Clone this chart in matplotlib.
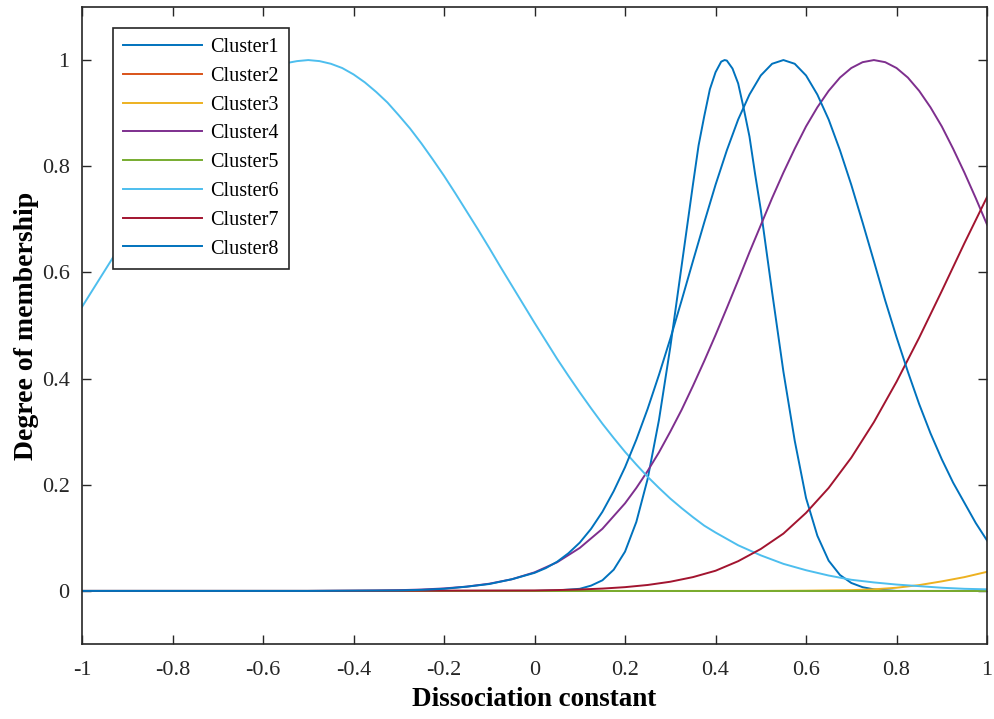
import matplotlib.pyplot as plt

x1 = [-1.0, 0.0, 0.05, 0.1, 0.125, 0.15, 0.175, 0.2, 0.225, 0.25, 0.275, 0.3, 0.325,
      0.35, 0.3625, 0.375, 0.3875, 0.4, 0.4125, 0.42, 0.425, 0.4375, 0.45, 0.4625,
      0.475, 0.4875, 0.5, 0.525, 0.55, 0.575, 0.6, 0.625, 0.65, 0.675, 0.7, 0.725,
      0.75, 0.8, 1.0]
y1 = [0.0, 0.0, 0.001, 0.004, 0.01, 0.02, 0.04, 0.074, 0.13, 0.211, 0.322, 0.459, 0.612,
      0.765, 0.839, 0.894, 0.945, 0.977, 0.997, 1.0, 0.999, 0.984, 0.956, 0.908,
      0.856, 0.785, 0.718, 0.563, 0.413, 0.283, 0.175, 0.104, 0.057, 0.03, 0.015,
      0.007, 0.003, 0.0, 0.0]

x2 = [-1.0, 1.0]
y2 = [0.0, 0.0]

x3 = [-1.0, 0.5, 0.6, 0.65, 0.7, 0.75, 0.8, 0.85, 0.9, 0.95, 1.0]
y3 = [0.0, 0.0, 0.0005, 0.001, 0.0015, 0.003, 0.006, 0.011, 0.018, 0.026, 0.036]

x4 = [-1.0, -0.5, -0.4, -0.35, -0.3, -0.25, -0.2, -0.15, -0.1, -0.05, 0.0, 0.05, 0.1,
      0.15, 0.2, 0.225, 0.25, 0.275, 0.3, 0.325, 0.35, 0.375, 0.4, 0.425, 0.45, 0.475,
      0.5, 0.525, 0.55, 0.575, 0.6, 0.625, 0.65, 0.675, 0.7, 0.725, 0.75, 0.775, 0.8,
      0.825, 0.85, 0.875, 0.9, 0.925, 0.95, 0.975, 1.0]
y4 = [0.0, 0.0, 0.0004, 0.0007, 0.0014, 0.0026, 0.0047, 0.0081, 0.0136, 0.022, 0.035,
      0.054, 0.081, 0.117, 0.165, 0.194, 0.226, 0.261, 0.3, 0.341, 0.386, 0.433, 0.482,
      0.533, 0.585, 0.638, 0.689, 0.74, 0.788, 0.833, 0.875, 0.911, 0.942, 0.967, 0.985,
      0.996, 1.0, 0.996, 0.985, 0.967, 0.942, 0.911, 0.875, 0.833, 0.788, 0.74, 0.69]

x5 = [-1.0, 1.0]
y5 = [0.0, 0.0]

x6 = [-1.0, -0.975, -0.95, -0.925, -0.9, -0.875, -0.85, -0.825, -0.8, -0.775, -0.75,
      -0.725, -0.7, -0.675, -0.65, -0.625, -0.6, -0.575, -0.55, -0.525, -0.5, -0.475,
      -0.45, -0.425, -0.4, -0.375, -0.35, -0.325, -0.3, -0.275, -0.25, -0.225, -0.2,
      -0.175, -0.15, -0.125, -0.1, -0.075, -0.05, -0.025, 0.0, 0.025, 0.05, 0.075, 0.1,
      0.125, 0.15, 0.175, 0.2, 0.225, 0.25, 0.275, 0.3, 0.325, 0.35, 0.375, 0.4, 0.45,
      0.5, 0.55, 0.6, 0.65, 0.7, 0.75, 0.8, 0.85, 0.9, 0.95, 1.0]
y6 = [0.535, 0.569, 0.603, 0.637, 0.67, 0.704, 0.736, 0.768, 0.799, 0.828, 0.855,
      0.881, 0.905, 0.926, 0.945, 0.962, 0.975, 0.986, 0.994, 0.998, 1.0, 0.998,
      0.993, 0.985, 0.973, 0.958, 0.94, 0.92, 0.896, 0.871, 0.843, 0.813, 0.782,
      0.749, 0.715, 0.681, 0.646, 0.61, 0.575, 0.54, 0.505, 0.471, 0.437, 0.405, 0.374,
      0.344, 0.315, 0.288, 0.262, 0.238, 0.215, 0.194, 0.174, 0.156, 0.139, 0.123, 0.11,
      0.086, 0.067, 0.051, 0.039, 0.029, 0.021, 0.016, 0.012, 0.009, 0.006, 0.004, 0.003]

x7 = [-1.0, -0.5, 0.0, 0.05, 0.1, 0.15, 0.2, 0.25, 0.3, 0.35, 0.4, 0.45, 0.5, 0.55,
      0.6, 0.65, 0.7, 0.75, 0.8, 0.85, 0.9, 0.95, 1.0]
y7 = [0.0, 0.0, 0.0009, 0.0016, 0.0027, 0.0044, 0.0071, 0.0112, 0.0173, 0.026, 0.038,
      0.056, 0.079, 0.108, 0.147, 0.194, 0.251, 0.318, 0.394, 0.477, 0.565, 0.655, 0.742]

x8 = [-1.0, -0.5, -0.3, -0.25, -0.2, -0.15, -0.1, -0.05, 0.0, 0.025, 0.05, 0.075, 0.1,
      0.125, 0.15, 0.175, 0.2, 0.225, 0.25, 0.275, 0.3, 0.325, 0.35, 0.375, 0.4, 0.425,
      0.45, 0.475, 0.5, 0.525, 0.55, 0.575, 0.6, 0.625, 0.65, 0.675, 0.7, 0.725, 0.75,
      0.775, 0.8, 0.825, 0.85, 0.875, 0.9, 0.925, 0.95, 0.975, 1.0]
y8 = [0.0, 0.0, 0.001, 0.002, 0.004, 0.008, 0.013, 0.022, 0.034, 0.043, 0.055, 0.071,
      0.091, 0.117, 0.149, 0.188, 0.233, 0.285, 0.343, 0.407, 0.475, 0.547, 0.621, 0.694,
      0.765, 0.83, 0.888, 0.935, 0.971, 0.993, 1.0, 0.993, 0.971, 0.935, 0.888, 0.83,
      0.765, 0.694, 0.621, 0.547, 0.478, 0.413, 0.352, 0.297, 0.248, 0.204, 0.166,
      0.128, 0.095]

names = ['Cluster1', 'Cluster2', 'Cluster3', 'Cluster4',
         'Cluster5', 'Cluster6', 'Cluster7', 'Cluster8']
colors = ['#0072BD', '#D95319', '#EDB120', '#7E2F8E',
          '#77AC30', '#4DBEEE', '#A2142F', '#0072BD']

plt.rcParams['font.family'] = ['Liberation Serif', 'DejaVu Serif']

fig = plt.figure(figsize=(9.94, 7.19), dpi=100)
ax = fig.add_axes([0.0825, 0.1043, 0.9105, 0.886])

curves = [(x1, y1), (x2, y2), (x3, y3), (x4, y4),
          (x5, y5), (x6, y6), (x7, y7), (x8, y8)]
for (xs, ys), name, c in zip(curves, names, colors):
    ax.plot(xs, ys, color=c, lw=1.4, label=name)

ax.set_xlim(-1, 1)
ax.set_ylim(-0.1, 1.1)
ax.set_xticks([-1, -0.8, -0.6, -0.4, -0.2, 0, 0.2, 0.4, 0.6, 0.8, 1])
ax.set_xticklabels(['-1', '-0.8', '-0.6', '-0.4', '-0.2', '0', '0.2', '0.4', '0.6', '0.8', '1'])
ax.set_yticks([0, 0.2, 0.4, 0.6, 0.8, 1])
ax.set_yticklabels(['0', '0.2', '0.4', '0.6', '0.8', '1'])
ax.tick_params(direction='in', length=6.5, width=1.0, top=True, right=True,
               labelsize=16, colors='#262626', pad=9)
ax.tick_params(axis='x', pad=12.5)
for s in ax.spines.values():
    s.set_linewidth(1.2)
    s.set_color('#262626')

ax.set_xlabel('Dissociation constant', fontsize=19.5, fontweight='bold', labelpad=5)
ax.set_ylabel('Degree of membership', fontsize=20, fontweight='bold', labelpad=2)

leg = ax.legend(loc='upper left', bbox_to_anchor=(0.034, 0.967), borderaxespad=0,
                fontsize=14.5, handlelength=3.95, labelspacing=0.48, handletextpad=0.4,
                fancybox=False, framealpha=1, edgecolor='#262626', borderpad=0.5)
leg.get_frame().set_linewidth(1.2)

fig.savefig('out.png', dpi=100)
